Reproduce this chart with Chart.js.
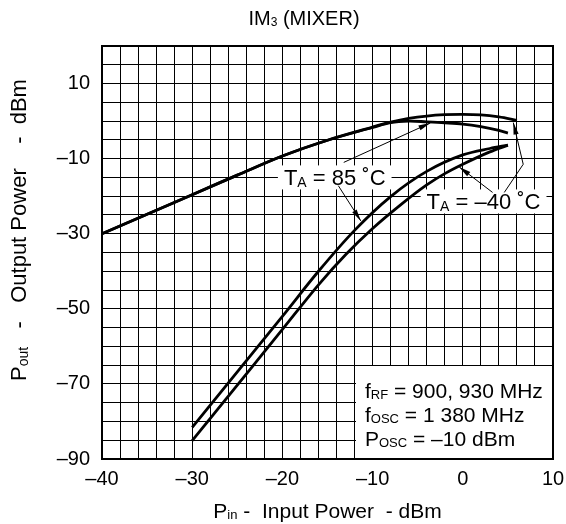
<!DOCTYPE html>
<html>
<head>
<meta charset="utf-8">
<script src="https://cdn.jsdelivr.net/npm/chart.js@4.4.0/dist/chart.umd.min.js"></script>
<style>
  html, body { margin: 0; padding: 0; background: #fff; }
  #wrap { width: 566px; height: 524px; }
</style>
</head>
<body>
<div id="wrap"><canvas id="im3-chart" width="566" height="524"></canvas></div>
<script>
// Pin (dBm) -> Pout (dBm)
var pinTop40 = [-40, -35, -30, -25, -20, -15, -10, -8, -6, -4, -2, 0, 2, 4, 6];
var poutTop40 = [-30, -24.8, -19.6, -14.4, -9.3, -5.1, -1.6, -0.3, 0.7, 1.35, 1.7, 1.8, 1.65, 1.1, 0.2];
var pinTop85 = [-40, -35, -30, -25, -20, -15, -10, -8, -6, -4, -2, 0, 2, 4, 5];
var poutTop85 = [-30, -24.8, -19.6, -14.4, -9.3, -5.1, -1.7, -0.4, 0.0, -0.2, -0.45, -0.8, -1.5, -2.5, -3.2];
var pinIm85 = [-30, -25, -20, -16, -12, -8, -4, 0, 3, 5];
var poutIm85 = [-81.6, -66.8, -52.0, -40.0, -29.1, -20.1, -13.4, -9.0, -7.3, -6.4];
var pinIm40 = [-30, -25, -20, -16, -13, -10, -7, -4, -2, 0, 3, 5];
var poutIm40 = [-85.1, -70.3, -55.5, -43.6, -35.6, -28.6, -22.5, -17.0, -14.0, -11.5, -8.2, -6.4];

var xTickLabels = [-40, -30, -20, -10, 0, 10];
var yTickLabels = [-90, -70, -50, -30, -10, 10];

var FONT = '"Liberation Sans", Arial, Helvetica, sans-serif';

function pts(xs, ys) {
  return xs.map(function (x, i) { return { x: x, y: ys[i] }; });
}
function dash(v) {
  return v < 0 ? '\u2013' + Math.abs(v) : String(v);
}

// text with subscript pieces: parts = [[text, isSub], ...]
function richText(ctx, parts, x, y, size, align, measureOnly) {
  var widths = [], total = 0;
  parts.forEach(function (p) {
    ctx.font = (p[1] ? Math.round(size * 0.62) : size) + 'px ' + FONT;
    var w = ctx.measureText(p[0]).width;
    widths.push(w);
    total += w;
  });
  if (measureOnly) return total;
  var cx = align === 'center' ? x - total / 2 : (align === 'right' ? x - total : x);
  ctx.textAlign = 'left';
  ctx.textBaseline = 'alphabetic';
  parts.forEach(function (p, i) {
    ctx.font = (p[1] ? Math.round(size * 0.62) : size) + 'px ' + FONT;
    ctx.fillText(p[0], cx, p[1] ? y + size * 0.07 : y);
    cx += widths[i];
  });
  return total;
}

function arrow(ctx, path) {
  ctx.save();
  ctx.strokeStyle = '#000';
  ctx.fillStyle = '#000';
  ctx.lineWidth = 1;
  ctx.beginPath();
  ctx.moveTo(path[0][0], path[0][1]);
  for (var i = 1; i < path.length; i++) ctx.lineTo(path[i][0], path[i][1]);
  ctx.stroke();
  var a = path[path.length - 2], b = path[path.length - 1];
  var ang = Math.atan2(b[1] - a[1], b[0] - a[0]);
  var len = 12, hw = 2.6;
  ctx.beginPath();
  ctx.moveTo(b[0], b[1]);
  ctx.lineTo(b[0] - len * Math.cos(ang) - hw * Math.sin(ang), b[1] - len * Math.sin(ang) + hw * Math.cos(ang));
  ctx.lineTo(b[0] - len * Math.cos(ang) + hw * Math.sin(ang), b[1] - len * Math.sin(ang) - hw * Math.cos(ang));
  ctx.closePath();
  ctx.fill();
  ctx.restore();
}

// annotation anchors in data units
var label85 = { x: -14.2, y: -15 };
var label40 = { x: 2.3, y: -21.4 };
var arrows = [
  [[-13.2, -11.0], [-3.6, -0.5]],
  [[-13.8, -17.2], [-11.3, -26.6]],
  [[3.3, -19.0], [-0.4, -12.2]],
  [[4.6, -19.0], [6.7, -11.5], [5.6, -0.4]]
];
var noteBox = { x: -12, y: -65 };

var annotate = {
  id: 'annotate',
  beforeDatasetsDraw: function (chart) {
    var ctx = chart.ctx, xs = chart.scales.x, ys = chart.scales.y, area = chart.chartArea;
    ctx.save();
    ctx.fillStyle = '#fff';
    // box for conditions, bounded by grid lines
    var bx = Math.round(xs.getPixelForValue(noteBox.x)) + 1;
    var by = Math.round(ys.getPixelForValue(noteBox.y)) + 1;
    ctx.fillRect(bx, by, area.right - bx, area.bottom - by);
    ctx.fillStyle = '#000';
    richText(ctx, [['f', false], ['RF', true], [' = 900, 930 MHz', false]], bx + 9, by + 32, 21, 'left');
    richText(ctx, [['f', false], ['OSC', true], [' = 1 380 MHz', false]], bx + 9, by + 56, 21, 'left');
    richText(ctx, [['P', false], ['OSC', true], [' = \u201310 dBm', false]], bx + 9, by + 80, 21, 'left');

    // temperature labels on white
    [[label85, ' = 85 \u02daC'], [label40, ' = \u201340 \u02daC']].forEach(function (l) {
      var cx = xs.getPixelForValue(l[0].x), cy = ys.getPixelForValue(l[0].y);
      var parts = [['T', false], ['A', true], [l[1], false]];
      var w = richText(ctx, parts, cx, cy, 22, 'center', true);
      ctx.fillStyle = '#fff';
      ctx.fillRect(cx - w / 2 - 6, cy - 12, w + 12, 24);
      ctx.fillStyle = '#000';
      richText(ctx, parts, cx, cy + 8, 22, 'center');
    });
    ctx.restore();
  },
  afterDraw: function (chart) {
    var ctx = chart.ctx, xs = chart.scales.x, ys = chart.scales.y, area = chart.chartArea;
    ctx.save();
    arrows.forEach(function (a) {
      arrow(ctx, a.map(function (p) { return [xs.getPixelForValue(p[0]), ys.getPixelForValue(p[1])]; }));
    });
    // frame
    ctx.strokeStyle = '#000';
    ctx.lineWidth = 2;
    ctx.strokeRect(area.left, area.top, area.right - area.left, area.bottom - area.top);
    // titles
    ctx.fillStyle = '#000';
    richText(ctx, [['IM', false], ['3', true], [' (MIXER)', false]], 304, 25, 20, 'center');
    richText(ctx, [['P', false], ['in', true], [' -  Input Power  - dBm', false]], (area.left + area.right) / 2, 518, 21, 'center');
    ctx.translate(26, 230);
    ctx.rotate(-Math.PI / 2);
    richText(ctx, [['P', false], ['out', true], ['   -   Output Power    -  dBm', false]], 0, 0, 22, 'center');
    ctx.restore();
  }
};

function line(data, smooth) {
  var ds = {
    data: data,
    borderColor: '#000',
    borderWidth: 2.8,
    pointRadius: 0,
    fill: false
  };
  if (smooth === 'monotone') ds.cubicInterpolationMode = 'monotone';
  else ds.tension = 0.35;
  return ds;
}

var ctx = document.getElementById('im3-chart').getContext('2d');
var myChart = new Chart(ctx, {
  type: 'line',
  data: {
    datasets: [
      line(pts(pinTop40, poutTop40)),
      line(pts(pinTop85, poutTop85)),
      line(pts(pinIm85, poutIm85), 'monotone'),
      line(pts(pinIm40, poutIm40), 'monotone')
    ]
  },
  options: {
    responsive: false,
    animation: false,
    devicePixelRatio: 1,
    layout: { padding: { top: 46, right: 13, left: 0, bottom: 0 } },
    plugins: { legend: { display: false }, tooltip: { enabled: false }, title: { display: false } },
    scales: {
      x: {
        type: 'linear',
        min: -40, max: 10,
        afterFit: function (s) { s.height = 65; s.paddingLeft = 0; s.paddingRight = 0; },
        border: { display: false },
        grid: { color: '#000', lineWidth: 1, drawTicks: false },
        ticks: {
          stepSize: 2, autoSkip: false, maxRotation: 0, padding: 8,
          color: '#000', font: { family: FONT, size: 20 },
          callback: function (v) { return xTickLabels.indexOf(v) >= 0 ? dash(v) : ''; }
        }
      },
      y: {
        type: 'linear',
        min: -90, max: 20,
        afterFit: function (s) { s.width = 102; s.paddingTop = 0; s.paddingBottom = 0; },
        border: { display: false },
        grid: { color: '#000', lineWidth: 1, drawTicks: false },
        ticks: {
          stepSize: 5, autoSkip: false, padding: 12,
          color: '#000', font: { family: FONT, size: 20 },
          callback: function (v) { return yTickLabels.indexOf(v) >= 0 ? dash(v) : ''; }
        }
      }
    }
  },
  plugins: [annotate]
});
</script>
</body>
</html>
